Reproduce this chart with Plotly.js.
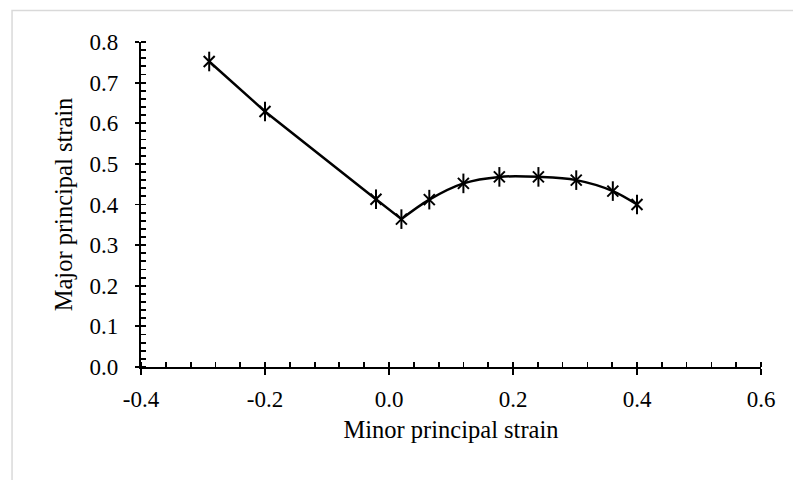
<!DOCTYPE html>
<html><head><meta charset="utf-8">
<script src="https://cdn.plot.ly/plotly-3.0.1.min.js"></script>
<style>html,body{margin:0;padding:0;background:#fff}#chart{width:793px;height:480px}</style>
</head><body><div id="chart"></div>
<script>
// Data
const minorStrain = [-0.290, -0.200, -0.021, 0.020, 0.065, 0.120, 0.178, 0.241, 0.302, 0.361, 0.400];
const majorStrain = [0.752, 0.629, 0.413, 0.364, 0.412, 0.452, 0.468, 0.468, 0.460, 0.433, 0.400];
const kinkIndex = 3; // straight segment up to here, smoothed afterwards

const xTickVals = [-0.4, -0.2, 0.0, 0.2, 0.4, 0.6];
const xTickText = ['-0.4', '-0.2', '0.0', '0.2', '0.4', '0.6'];
const yTickVals = [0.0, 0.1, 0.2, 0.3, 0.4, 0.5, 0.6, 0.7, 0.8];
const yTickText = ['0.0', '0.1', '0.2', '0.3', '0.4', '0.5', '0.6', '0.7', '0.8'];

const xTitle = 'Minor principal strain';
const yTitle = 'Major principal strain';

const FONT = "'Liberation Serif', 'Times New Roman', serif";
const black = '#000000';

const traces = [
  {x: minorStrain.slice(0, kinkIndex + 1), y: majorStrain.slice(0, kinkIndex + 1),
   mode: 'lines', line: {color: black, width: 2.5, shape: 'linear'}, showlegend: false, hoverinfo: 'skip'},
  {x: minorStrain.slice(kinkIndex), y: majorStrain.slice(kinkIndex),
   mode: 'lines', line: {color: black, width: 2.5, shape: 'spline', smoothing: 1}, showlegend: false, hoverinfo: 'skip'},
  {x: minorStrain, y: majorStrain, mode: 'markers',
   marker: {symbol: 'x-thin-open', size: 11, color: black, line: {color: black, width: 2}}, showlegend: false},
  {x: minorStrain, y: majorStrain, mode: 'markers',
   marker: {symbol: 'line-ns-open', size: 14, color: black, line: {color: black, width: 2}}, showlegend: false}
];

const layout = {
  width: 793, height: 480,
  margin: {l: 141, r: 32, t: 42, b: 113},
  paper_bgcolor: '#ffffff', plot_bgcolor: '#ffffff',
  font: {family: FONT, color: black},
  xaxis: {
    range: [-0.4, 0.6], tickmode: 'array', tickvals: xTickVals, ticktext: xTickText,
    ticks: 'outside', ticklen: 6, tickwidth: 1.8, tickcolor: black,
    showline: true, linecolor: black, linewidth: 2.2, zeroline: false, showgrid: false,
    minor: {tickmode: 'linear', tick0: -0.4, dtick: 0.04, ticks: 'inside', ticklen: 5, tickwidth: 1.8, tickcolor: black, showgrid: false},
    tickfont: {family: FONT, size: 23, color: black}, ticklabelstandoff: 4,
    title: {text: xTitle, font: {family: FONT, size: 24.5, color: black}, standoff: 10}
  },
  yaxis: {
    range: [0, 0.8], tickmode: 'array', tickvals: yTickVals, ticktext: yTickText,
    ticks: 'outside', ticklen: 4, tickwidth: 1.8, tickcolor: black,
    showline: true, linecolor: black, linewidth: 2.2, zeroline: false, showgrid: false,
    minor: {tickmode: 'linear', tick0: 0, dtick: 0.02, ticks: 'inside', ticklen: 5, tickwidth: 1.8, tickcolor: black, showgrid: false},
    tickfont: {family: FONT, size: 23, color: black}, ticklabelstandoff: 12,
    title: {text: yTitle, font: {family: FONT, size: 24.5, color: black}, standoff: 10}
  },
  xaxis2: {
    overlaying: 'x', anchor: 'y', side: 'bottom', range: [-0.4, 0.6], tickmode: 'array', tickvals: xTickVals,
    ticks: 'inside', ticklen: 4, tickwidth: 1.8, tickcolor: black, showticklabels: false,
    showline: false, zeroline: false, showgrid: false
  },
  yaxis2: {
    overlaying: 'y', anchor: 'x', side: 'left', range: [0, 0.8], tickmode: 'array', tickvals: yTickVals,
    ticks: 'inside', ticklen: 5, tickwidth: 1.8, tickcolor: black, showticklabels: false,
    showline: false, zeroline: false, showgrid: false
  },
  shapes: [{type: 'rect', xref: 'paper', yref: 'paper', x0: -0.208, x1: 1.2, y0: -0.6, y1: 1.097,
            line: {color: '#d9d9d9', width: 1.5}, fillcolor: 'rgba(0,0,0,0)', layer: 'below'}]
};

Plotly.newPlot('chart', traces, layout, {displayModeBar: false, staticPlot: true});
</script></body></html>
